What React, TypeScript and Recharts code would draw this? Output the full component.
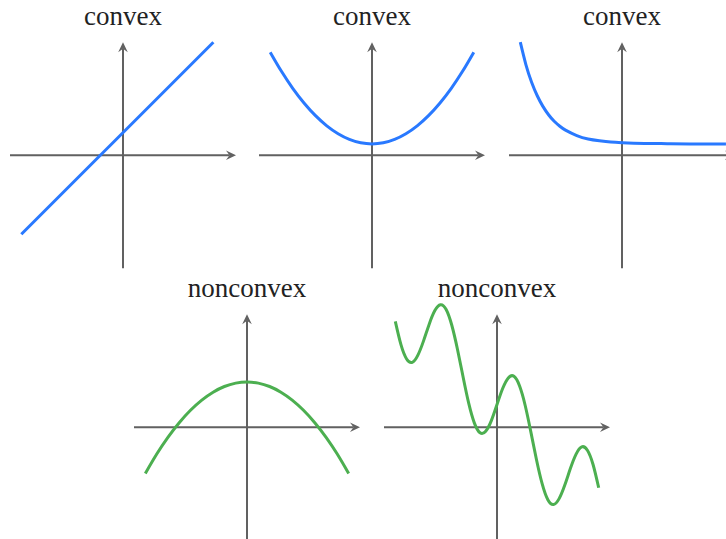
import { LineChart, Line, XAxis, YAxis, ReferenceLine } from 'recharts';

// values, axes run from -5 to 5 in both directions
const lineX = [-4.5, 4.0];
const lineY = [-3.5, 5.0];

const bowlX = [-4.5, -4, -3.5, -3, -2.5, -2, -1.5, -1, -0.5, 0, 0.5, 1, 1.5, 2, 2.5, 3, 3.5, 4, 4.5];
const bowlY = [4.55, 3.7, 2.95, 2.3, 1.75, 1.3, 0.95, 0.7, 0.55, 0.5, 0.55, 0.7, 0.95, 1.3, 1.75, 2.3, 2.95, 3.7, 4.55];

const decayX = [-4.5, -4.25, -4, -3.75, -3.5, -3.25, -3, -2.75, -2.5, -2, -1.5, -1, -0.5, 0, 1, 2, 3, 4.6];
const decayY = [5.0, 4.0, 3.23, 2.63, 2.16, 1.79, 1.5, 1.28, 1.11, 0.87, 0.72, 0.64, 0.58, 0.55, 0.52, 0.51, 0.5, 0.5];

const capX = [-4.5, -4, -3.5, -3, -2.5, -2, -1.5, -1, -0.5, 0, 0.5, 1, 1.5, 2, 2.5, 3, 3.5, 4, 4.5];
const capY = [-2.05, -1.2, -0.45, 0.2, 0.75, 1.2, 1.55, 1.8, 1.95, 2.0, 1.95, 1.8, 1.55, 1.2, 0.75, 0.2, -0.45, -1.2, -2.05];

const waveX = [
  -4.5, -4.25, -4, -3.75, -3.5, -3.25, -3, -2.75, -2.5, -2.25, -2, -1.75, -1.5, -1.25, -1, -0.75, -0.5, -0.25,
  0, 0.25, 0.5, 0.75, 1, 1.25, 1.5, 1.75, 2, 2.25, 2.5, 2.75, 3, 3.25, 3.5, 3.75, 4, 4.25, 4.5,
];
const waveY = [
  4.68, 3.65, 3.02, 2.87, 3.19, 3.82, 4.56, 5.16, 5.42, 5.21, 4.51, 3.45, 2.22, 1.05, 0.18, -0.25, -0.18, 0.29,
  1.0, 1.71, 2.18, 2.25, 1.82, 0.95, -0.22, -1.45, -2.51, -3.21, -3.42, -3.16, -2.56, -1.82, -1.19, -0.87, -1.02, -1.65, -2.68,
];

const BLUE = '#2979ff';
const GREEN = '#4caf50';
const AXIS = '#616161';

const UNIT = 22.6; // px per unit
const Y_RANGE = 7; // y domain is wider than the drawn axis so the wave is not clipped

const zip = (xs: number[], ys: number[]) => xs.map((x, i) => ({ x, y: ys[i] }));

const AxisArrow = (props: any) => {
  const { x1, y1, x2, y2 } = props;
  const len = Math.hypot(x2 - x1, y2 - y1) || 1;
  const ux = (x2 - x1) / len;
  const uy = (y2 - y1) / len;
  const px = -uy;
  const py = ux;
  const back = 10;
  const notch = 6.5;
  const half = 4.8;
  const bx = x2 - ux * back;
  const by = y2 - uy * back;
  const nx = x2 - ux * notch;
  const ny = y2 - uy * notch;
  const d = `M${x2},${y2} L${bx + px * half},${by + py * half} L${nx},${ny} L${bx - px * half},${by - py * half} Z`;
  return (
    <g>
      <line x1={x1} y1={y1} x2={nx} y2={ny} stroke={AXIS} strokeWidth={2} />
      <path d={d} fill={AXIS} stroke="none" />
    </g>
  );
};

interface PanelProps {
  ox: number;
  oy: number;
  title: string;
  data: { x: number; y: number }[];
  color: string;
  curve: 'linear' | 'natural';
}

function Panel({ ox, oy, title, data, color, curve }: PanelProps) {
  const pad = 4;
  const plotW = 10 * UNIT;
  const plotH = 2 * Y_RANGE * UNIT;
  const left = ox - 5 * UNIT - pad;
  const top = oy - Y_RANGE * UNIT - pad;
  return (
    <>
      <svg
        width={250}
        height={34}
        style={{ position: 'absolute', left: ox - 125, top: oy - 155, overflow: 'visible' }}
      >
        <text
          x={125}
          y={25}
          textAnchor="middle"
          fontFamily="Liberation Serif, Times New Roman, serif"
          fontSize={27}
          fill="#222"
        >
          {title}
        </text>
      </svg>
      <div style={{ position: 'absolute', left, top }}>
        <LineChart
          width={plotW + 2 * pad}
          height={plotH + 2 * pad}
          data={data}
          margin={{ top: pad, right: pad, bottom: pad, left: pad }}
        >
          <XAxis dataKey="x" type="number" domain={[-5, 5]} hide />
          <YAxis type="number" domain={[-Y_RANGE, Y_RANGE]} hide />
          <ReferenceLine
            segment={[{ x: -5, y: 0 }, { x: 5, y: 0 }]}
            ifOverflow="visible"
            shape={AxisArrow}
          />
          <ReferenceLine
            segment={[{ x: 0, y: -5 }, { x: 0, y: 5 }]}
            ifOverflow="visible"
            shape={AxisArrow}
          />
          <Line
            dataKey="y"
            type={curve}
            stroke={color}
            strokeWidth={3}
            dot={false}
            activeDot={false}
            isAnimationActive={false}
          />
        </LineChart>
      </div>
    </>
  );
}

export default function App() {
  return (
    <div
      style={{
        position: 'absolute',
        left: 0,
        top: 0,
        width: 726,
        height: 539,
        overflow: 'hidden',
        background: '#fff',
      }}
    >
      <Panel ox={123} oy={155} title="convex" data={zip(lineX, lineY)} color={BLUE} curve="linear" />
      <Panel ox={372} oy={155} title="convex" data={zip(bowlX, bowlY)} color={BLUE} curve="natural" />
      <Panel ox={622} oy={155} title="convex" data={zip(decayX, decayY)} color={BLUE} curve="natural" />
      <Panel ox={247} oy={427} title="nonconvex" data={zip(capX, capY)} color={GREEN} curve="natural" />
      <Panel ox={497} oy={427} title="nonconvex" data={zip(waveX, waveY)} color={GREEN} curve="natural" />
    </div>
  );
}
